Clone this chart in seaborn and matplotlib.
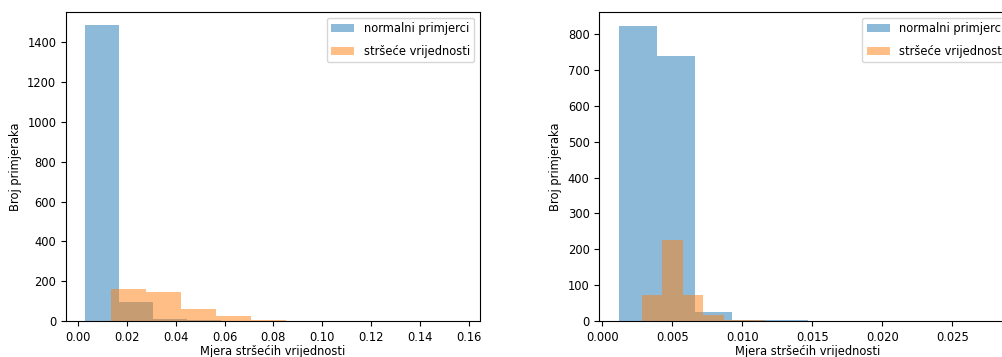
import numpy as np
import pandas as pd
import matplotlib
matplotlib.use("Agg")
import matplotlib.pyplot as plt
import seaborn as sns

# Histogram counts (10 bins each)
left_normal_range = (0.0029, 0.1419)
left_normal_counts = [1487, 95, 10, 3, 2, 1, 0, 0, 0, 1]
left_outlier_range = (0.0135, 0.1565)
left_outlier_counts = [161, 144, 59, 23, 3, 2, 1, 0, 0, 1]

right_normal_range = (0.00119, 0.0282)
right_normal_counts = [824, 738, 25, 3, 2, 1, 0, 0, 0, 1]
right_outlier_range = (0.00281, 0.0175)
right_outlier_counts = [72, 227, 72, 16, 3, 2, 0, 0, 0, 1]

labels = ["normalni primjerci", "stršeće vrijednosti"]
xlabel = "Mjera stršećih vrijednosti"
ylabel = "Broj primjeraka"


def draw_hist(ax, rng, counts, color, label):
    n = len(counts)
    edges = np.linspace(rng[0], rng[1], n + 1)
    df = pd.DataFrame({"x": (edges[:-1] + edges[1:]) / 2, "w": counts})
    sns.histplot(data=df, x="x", weights="w", bins=n, binrange=rng, ax=ax,
                 color=color, alpha=0.5, linewidth=0, label=label)


def main():
    plt.rcParams["font.size"] = 8.3
    fig = plt.figure(figsize=(10.02, 3.57), dpi=100)
    ax1 = fig.add_axes([0.0659, 0.1008, 0.4132, 0.8655])
    ax2 = fig.add_axes([0.5981, 0.1008, 0.4152, 0.8655])

    draw_hist(ax1, left_normal_range, left_normal_counts, "tab:blue", labels[0])
    draw_hist(ax1, left_outlier_range, left_outlier_counts, "tab:orange", labels[1])
    draw_hist(ax2, right_normal_range, right_normal_counts, "tab:blue", labels[0])
    draw_hist(ax2, right_outlier_range, right_outlier_counts, "tab:orange", labels[1])

    ax1.set_xlim(-0.0049, 0.1646)
    ax1.set_ylim(0, 1552)
    ax2.set_xlim(-0.00021, 0.0295)
    ax2.set_ylim(0, 862)

    ax1.set_xticks(np.arange(0, 0.161, 0.02))
    ax2.set_xticks(np.arange(0, 0.0251, 0.005))
    ax2.set_xticklabels(["0.000", "0.005", "0.010", "0.015", "0.020", "0.025"])

    for ax in (ax1, ax2):
        ax.set_xlabel(xlabel, labelpad=1)
        ax.set_ylabel(ylabel)
        ax.legend(loc="upper right", fontsize=8.3, labelspacing=0.8)

    fig.savefig("out.png", dpi=100)


if __name__ == "__main__":
    main()
